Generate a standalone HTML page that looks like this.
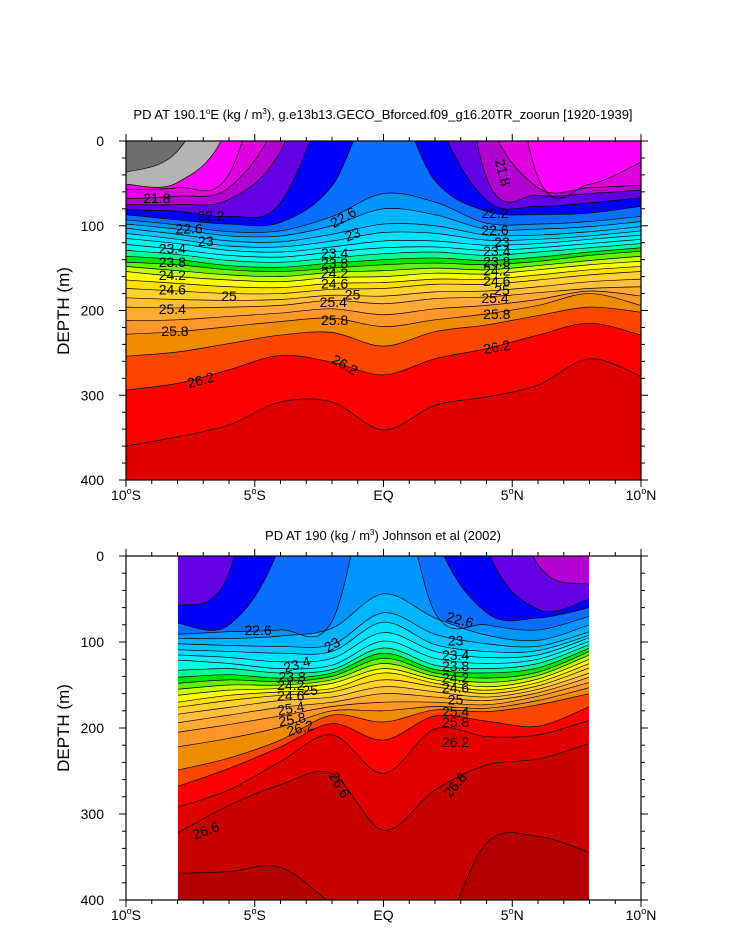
<!DOCTYPE html>
<html><head><meta charset="utf-8"><style>
body{margin:0;background:#fff}
svg{display:block;font-family:"Liberation Sans",sans-serif}
</style></head><body>
<svg id="fig" width="733" height="945" viewBox="0 0 733 945">
<defs>
<clipPath id="clipTop"><rect x="126" y="141" width="515" height="339"/></clipPath>
<clipPath id="clipBot"><rect x="178" y="556" width="411" height="344"/></clipPath>
</defs>
<rect width="733" height="945" fill="#fff"/>
<text x="383" y="119" font-size="13" text-anchor="middle">PD AT 190.1<tspan font-size="8" dy="-5">o</tspan><tspan dy="5">E (kg / m</tspan><tspan font-size="8" dy="-5">3</tspan><tspan dy="5">), g.e13b13.GECO_Bforced.f09_g16.20TR_zoorun [1920-1939]</tspan></text>
<text x="383" y="540" font-size="13" text-anchor="middle">PD AT 190 (kg / m<tspan font-size="8" dy="-5">3</tspan><tspan dy="5">) Johnson et al (2002)</tspan></text>
<text transform="translate(69,311) rotate(-90)" font-size="17" text-anchor="middle">DEPTH (m)</text>
<text transform="translate(69,728) rotate(-90)" font-size="17" text-anchor="middle">DEPTH (m)</text>
<g id="topPlot"></g>
<g id="botPlot"></g>
</svg>
<script>
// ---------- DATA ----------
const topLats=[-10,-8,-6,-4,-2,0,2,4,6,8,10];
const topLevels=[21.2,21.4,21.6,21.8,22.0,22.2,22.4,22.6,22.8,23.0,23.2,23.4,23.6,23.8,24.0,24.2,24.4,24.6,24.8,25.0,25.2,25.4,25.6,25.8,26.0,26.2,26.4];
const topDepths=[
[37,12,-100,-250,-250,-250,-250,-250,-250,-250,-250],
[51,49,-20,-250,-250,-250,-250,-250,-250,-250,-250],
[57,55,39,-150,-250,-250,-250,-240,43,51,25],
[68,65,55,-35,-250,-250,-250,-30,55,55,52],
[75,75,69,12,-150,-250,-250,43,64,62,58],
[81,83,89,73,-70,-250,-35,70,77,73,67],
[87,93,98,96,53,-60,47,83,87,85,77],
[93,99,107,106,89,62,72,97,98,95,89],
[98,104,112,112,100,80,87,104,104,101,95],
[103,110,118,119,110,98,100,111,111,107,101],
[109,116,124,125,118,108,109,117,116,112,106],
[115,121,129,131,125,118,118,123,121,116,111],
[122,128,135,137,131,126,125,129,126,121,116],
[129,134,141,143,138,133,131,135,131,126,121],
[136,140,147,149,144,140,138,141,137,131,126],
[143,146,152,154,150,146,144,146,142,135,130],
[148,153,158,160,155,153,150,152,147,141,136],
[154,160,164,166,161,160,156,157,152,146,142],
[164,168,172,173,168,167,163,163,158,152,148],
[174,177,180,180,175,174,169,169,164,158,154],
[185,187,188,187,182,183,178,177,172,166,163],
[196,197,196,194,188,192,186,184,179,174,172],
[212,211,207,203,198,205,198,194,187,177,183],
[228,225,219,213,209,219,211,204,194,180,194],
[254,249,239,229,226,242,225,217,206,196,202],
[294,286,270,253,261,276,257,245,229,215,229],
[360,349,335,308,308,341,312,302,288,257,278]];
const topBaseColor="#6e6e6e";
const topLabelText=["21.8","22.2","22.6","23","23.4","23.8","24.2","24.6","25","25.4","25.8","26.2",
 "22.6","23","23.4","23.8","24.2","24.6","25","25.4","25.8","26.2",
 "21.8","22.2","22.6","23","23.4","23.8","24.2","24.6","25","25.4","25.8","26.2"];
const topLabelLat=[-8.8,-6.7,-7.55,-6.9,-8.2,-8.2,-8.2,-8.2,-6.0,-8.2,-8.1,-7.1,
 -1.57,-1.2,-1.9,-1.9,-1.9,-1.9,-1.2,-1.95,-1.9,-1.5,
 4.64,4.33,4.33,4.6,4.4,4.4,4.4,4.4,4.6,4.33,4.4,4.4];
const topLabelDepth=[67,88,103,118,127,143,158,175,183,198,224,282,
 90,110,132,144,156,168,181,190,211,264,
 37,85,105,119,130,142,153,165,176,185,204,243];
const topLabelRot=[0,0,0,0,0,0,0,0,0,0,0,-15,-30,-20,0,0,0,0,0,0,0,30,75,0,0,0,0,0,0,0,0,0,0,-10];

const botLats=[-8,-6,-4,-2,0,2,4,6,8];
const botLevels=[22.0,22.2,22.4,22.6,22.8,23.0,23.2,23.4,23.6,23.8,24.0,24.2,24.4,24.6,24.8,25.0,25.2,25.4,25.6,25.8,26.0,26.2,26.4,26.6,26.8];
const botDepths=[
[-250,-250,-250,-250,-250,-250,-150,10,33],
[58,20,-250,-250,-250,-250,-10,62,50],
[78,80,-15,-250,-250,-25,66,72,60],
[91,88,86,76,-125,66,80,86,70],
[96,96,93,84,44,72,92,98,80],
[102,104,105,103,66,91,102,105,88],
[109,111,113,111,77,103,111,110,92],
[115,118,123,119,89,111,118,115,95],
[121,125,131,127,99,119,125,120,99],
[133,131,136,132,107,127,131,125,103],
[141,138,142,136,113,132,136,130,107],
[148,144,146,140,119,136,142,135,111],
[155,150,150,144,125,140,147,139,115],
[162,156,154,148,131,144,152,143,120],
[170,162,158,154,136,148,156,147,125],
[176,168,162,158,144,152,160,151,130],
[184,176,168,164,152,158,164,155,136],
[194,185,176,170,160,164,168,159,141],
[205,196,186,175,170,170,173,163,147],
[222,212,199,180,180,175,177,168,153],
[249,235,214,185,193,179,181,173,160],
[268,247,222,195,214,186,192,198,175],
[292,272,239,208,253,201,210,208,191],
[322,290,266,253,319,272,243,236,218],
[369,367,362,405,450,450,334,326,345]];
const botBaseColor="#b400d2";
const botLabelText=["22.6","23","23.4","23.8","24.2","24.6","25","25.4","25.8","26.2","26.6","26.6","26.6",
 "22.6","23","23.4","23.8","24.2","24.6","25","25.4","25.8","26.2"];
const botLabelLat=[-4.87,-2.0,-3.36,-3.55,-3.6,-3.6,-2.85,-3.6,-3.55,-3.24,-1.7,-6.9,2.78,
 2.97,2.8,2.8,2.8,2.8,2.8,2.8,2.8,2.8,2.8];
const botLabelDepth=[86,103,126,140,150,162,156,177,190,200,266,319,266,
 74,98,115,128,141,153,167,181,193,216];
const botLabelRot=[0,-30,-15,0,0,0,0,-10,-10,-15,60,-20,-50,15,0,0,0,0,0,0,0,0,0];

const levelColorKeys=[21.2,21.4,21.6,21.8,22.0,22.2,22.4,22.6,22.8,23.0,23.2,23.4,23.6,23.8,24.0,24.2,24.4,24.6,24.8,25.0,25.2,25.4,25.6,25.8,26.0,26.2,26.4,26.6,26.8];
const levelColors=["#b4b4b4","#ff00ff","#e000e0","#b400d2","#6400e6","#0000ff","#0a6eff","#0096ff","#00b4ff","#00c8ff","#00e1ff","#00f5ff","#00ffe6","#00ff96","#00e600","#64f000","#c8ff00","#ffff00","#ffe100","#ffd232","#ffbe3c","#ffaa32","#ff9628","#f08c00","#ff4600","#ff0000","#e10000","#c80000","#b40000"];

// ---------- DRAW ----------
const NS="http://www.w3.org/2000/svg";
function mk(tag,attrs,parent){const e=document.createElementNS(NS,tag);for(const k in attrs)e.setAttribute(k,attrs[k]);parent.appendChild(e);return e;}
function xScale(lat){return 126+(lat+10)*25.75;}
function colorFor(lv){const i=levelColorKeys.findIndex(v=>Math.abs(v-lv)<1e-6);return levelColors[i];}
function splinePath(pts){
  let d="M"+pts[0][0].toFixed(2)+","+pts[0][1].toFixed(2);
  for(let i=0;i<pts.length-1;i++){
    const p0=pts[Math.max(0,i-1)],p1=pts[i],p2=pts[i+1],p3=pts[Math.min(pts.length-1,i+2)];
    const c1=[p1[0]+(p2[0]-p0[0])/6,p1[1]+(p2[1]-p0[1])/6];
    const c2=[p2[0]-(p3[0]-p1[0])/6,p2[1]-(p3[1]-p1[1])/6];
    d+="C"+c1[0].toFixed(2)+","+c1[1].toFixed(2)+" "+c2[0].toFixed(2)+","+c2[1].toFixed(2)+" "+p2[0].toFixed(2)+","+p2[1].toFixed(2);
  }
  return d;
}
function drawPanel(g,cfg){
  const yS=d=>cfg.y0+d*(cfg.y1-cfg.y0)/400;
  const data=mk("g",{"clip-path":"url(#"+cfg.clip+")"},g);
  
  
  const bg=mk("rect",{x:cfg.dx0,y:cfg.y0,width:cfg.dx1-cfg.dx0,height:cfg.y1-cfg.y0,fill:cfg.base},data);
  
  
  cfg.levels.forEach((lv,k)=>{
    const pts=cfg.lats.map((la,i)=>[xScale(la),yS(cfg.depths[k][i])]);
    const curve=splinePath(pts);
    const last=pts[pts.length-1],first=pts[0];
    const fill=mk("path",{d:curve+"L"+(last[0]+2)+","+last[1]+"L"+(last[0]+2)+","+(cfg.y1+5)+"L"+(first[0]-2)+","+(cfg.y1+5)+"L"+(first[0]-2)+","+first[1]+"Z",fill:colorFor(lv)},data);
    
    
  });
  cfg.levels.forEach((lv,k)=>{
    const pts=cfg.lats.map((la,i)=>[xScale(la),yS(cfg.depths[k][i])]);
    const line=mk("path",{d:splinePath(pts),fill:"none",stroke:"#000","stroke-width":"0.7"},data);
    
    
  });
  cfg.labText.forEach((t,i)=>{
    const x=xScale(cfg.labLat[i]),y=yS(cfg.labDepth[i]);
    const tx=mk("text",{x:x,y:y+5,"font-size":"14","text-anchor":"middle",transform:"rotate("+cfg.labRot[i]+" "+x+" "+y+")"},data);
    tx.textContent=t;
    
    
  });
  const fr=mk("rect",{x:126,y:cfg.y0,width:515,height:cfg.y1-cfg.y0,fill:"none",stroke:"#000","stroke-width":"1.2"},g);
  
  
  const ax=mk("g",{stroke:"#000","stroke-width":"1"},g);
  
  
  for(let la=-10;la<=10;la++){
    const x=xScale(la),L=(la%5===0)?7:4;
    mk("line",{x1:x,y1:cfg.y1,x2:x,y2:cfg.y1+L},ax);
    mk("line",{x1:x,y1:cfg.y0,x2:x,y2:cfg.y0-L},ax);
  }
  for(let d=0;d<=400;d+=20){
    const y=yS(d),L=(d%100===0)?7:4;
    mk("line",{x1:126,y1:y,x2:126-L,y2:y},ax);
    mk("line",{x1:641,y1:y,x2:641+L,y2:y},ax);
  }
  for(let d=0;d<=400;d+=100){
    const t=mk("text",{x:104,y:yS(d)+5,"font-size":"14","text-anchor":"end"},g);
    t.textContent=String(d);
    
    
  }
  const xl=[["10","S",-10],["5","S",-5],["EQ","",0],["5","N",5],["10","N",10]];
  xl.forEach(a=>{
    const t=mk("text",{x:xScale(a[2]),y:cfg.y1+20,"font-size":"14","text-anchor":"middle"},g);
    
    
    if(a[1]===""){t.textContent=a[0];}
    else{
      const s1=mk("tspan",{},t);s1.textContent=a[0];
      const s2=mk("tspan",{"font-size":"9",dy:"-6"},t);s2.textContent="o";
      const s3=mk("tspan",{dy:"6"},t);s3.textContent=a[1];
    }
  });
}
drawPanel(document.getElementById("topPlot"),{prefix:"top",clip:"clipTop",y0:141,y1:480,dx0:126,dx1:641,
  lats:topLats,levels:topLevels,depths:topDepths,base:topBaseColor,
  labText:topLabelText,labLat:topLabelLat,labDepth:topLabelDepth,labRot:topLabelRot});
drawPanel(document.getElementById("botPlot"),{prefix:"bottom",clip:"clipBot",y0:556,y1:900,dx0:178,dx1:589,
  lats:botLats,levels:botLevels,depths:botDepths,base:botBaseColor,
  labText:botLabelText,labLat:botLabelLat,labDepth:botLabelDepth,labRot:botLabelRot});
</script>
</body></html>
